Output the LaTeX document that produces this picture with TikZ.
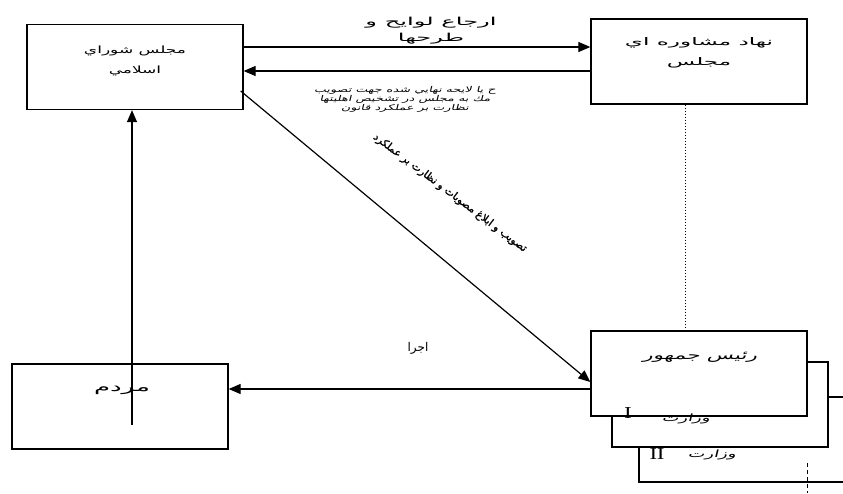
\documentclass[tikz,border=0pt]{standalone}
\usepackage{fontspec}
\usetikzlibrary{arrows.meta,calc}
\TeXXeTstate=1
\newfontfamily\arwa[Script=Arabic,FakeStretch=1.7]{DejaVu Sans}
\newfontfamily\arwb[Script=Arabic,FakeStretch=2.2]{DejaVu Sans}
\newfontfamily\arwc[Script=Arabic,FakeStretch=2.0]{DejaVu Sans}
\newfontfamily\aritw[Script=Arabic,FakeSlant=0.25,FakeStretch=1.8]{DejaVu Sans}
\newfontfamily\aritwb[Script=Arabic,FakeSlant=0.25,FakeStretch=1.6]{DejaVu Sans}
\newfontfamily\arbold[Script=Arabic,FakeBold=1.5]{DejaVu Sans}
\newfontfamily\arplain[Script=Arabic]{DejaVu Sans}
\tikzset{
  box/.style={draw, line width=1.3pt, fill=white, minimum width=216pt, minimum height=85pt, inner sep=0pt},
  conn/.style={line width=1.2pt},
  arr/.style={conn, -{Triangle[length=12pt,width=10pt]}},
  lbl/.style={inner sep=0pt, align=center},
}
\begin{document}
\begin{tikzpicture}[x=1pt,y=-1pt]
\useasboundingbox (0,0) rectangle (843,493);
% helper coordinates
\coordinate (y47) at (0,47);
\coordinate (y71) at (0,71);
\coordinate (y91) at (0,91);
\coordinate (y382) at (0,382);
\coordinate (y389) at (0,389);
\coordinate (y397) at (0,397);
\coordinate (x685) at (685,0);
\coordinate (x132) at (132,0);
\coordinate (pin) at (132,425);
\coordinate (rt) at (843,397);
% boxes
\node[box] (A) at (135,67) {};
\node[box] (B) at (699,61.5) {};
\node[box] (D) at (720,404.5) {};
\node[box] (C) at (699,373.5) {};
\node[box] (F) at (120,406.5) {};
% partial third box
\coordinate (E1) at (639,447);
\coordinate (E2) at (639,482);
\coordinate (E3) at (843,482);
\draw[conn] (E1) -- (E2) -- (E3);
\draw[conn] (D.east |- y397) -- (rt);
\coordinate (dv1) at (807,463);
\coordinate (dv2) at (807,493);
\draw[line width=1pt, dash pattern=on 4pt off 3pt] (dv1) -- (dv2);
% box labels
\node[lbl, font=\arwa\fontsize{10}{20}\selectfont] (Atx) at (135,61) {\beginR مجلس شوراي\endR\\\beginR اسلامي\endR};
\node[lbl, font=\arwb\fontsize{10.5}{20}\selectfont] (Btx) at (699,53) {\beginR نهاد مشاوره اي\endR\\\beginR مجلس\endR};
\node[lbl, font=\aritw\fontsize{12}{14}\selectfont] (Ctx) at (700,357) {\beginR رئيس جمهور\endR};
\node[lbl, font=\arwc\fontsize{13}{15}\selectfont] (Ftx) at (122,390) {\beginR مردم\endR};
\node[lbl, font=\fontsize{16}{18}\selectfont\bfseries] (I1) at (628,413) {I};
\node[lbl, font=\fontsize{16}{18}\selectfont\bfseries] (I2) at (657,454) {II};
\node[lbl, font=\aritw\fontsize{10}{12}\selectfont] (V1) at (686,419) {\beginR وزارت\endR};
\node[lbl, font=\aritw\fontsize{10}{12}\selectfont] (V2) at (712,455) {\beginR وزارت\endR};
% connectors
\draw[arr] (A.east |- y47) -- (B.west |- y47);
\draw[arr] (B.west |- y71) -- (A.east |- y71);
\draw[arr] ([xshift=-3pt]A.east |- y91) -- (C.west |- y382);
\draw[arr] (C.west |- y389) -- (F.east |- y389);
\draw[arr] (pin) -- (A.south -| x132);
\draw[line width=1pt, dotted] (B.south -| x685) -- (C.north -| x685);
% connector labels
\node[lbl, font=\arwb\fontsize{11}{16}\selectfont] (t1) at (431,31) {\beginR ارجاع لوايح و\endR\\\beginR طرحها\endR};
\node[lbl, font=\aritwb\fontsize{8}{9}\selectfont] (t2) at (405,99) {\beginR ح يا لايحه نهايي شده جهت تصويب\endR\\\beginR مك به مجلس در تشخيص اهليتها\endR\\\beginR نظارت بر عملكرد قانون\endR};
\node[lbl, rotate=-37, font=\arbold\fontsize{10.5}{12}\selectfont] (t3) at (450,193) {\beginR تصويب و ابلاغ مصوبات و نظارت بر عملكرد\endR};
\node[lbl, font=\arplain\fontsize{12}{14}\selectfont] (t4) at (418,348) {\beginR اجرا\endR};
\end{tikzpicture}
\end{document}
